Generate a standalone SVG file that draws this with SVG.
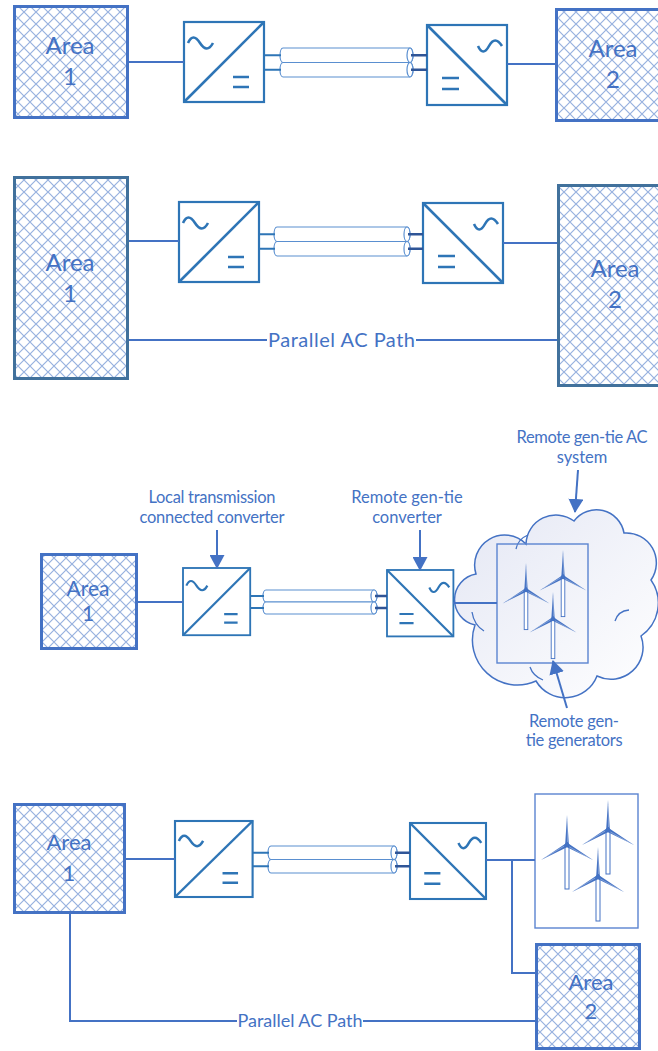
<svg xmlns="http://www.w3.org/2000/svg" width="658" height="1051" viewBox="0 0 658 1051">
  <style>
    .area { fill: url(#crosshatch); stroke: #4472c4; stroke-width: 3; }
    .area.dim { stroke: #41719c; }
    .lbl { font-family: Lato, "Liberation Sans", sans-serif; fill: #4472c4; text-anchor: middle; }
    .wire { fill: none; stroke: #4472c4; stroke-width: 2; }
    .stub { fill: none; stroke: #2e75b6; stroke-width: 2.2; }
    .stub.far { stroke: #2f5597; stroke-width: 2.6; }
    .tube { fill: #fff; stroke: #5a8fd0; stroke-width: 1.2; }
    .conv-box { fill: #fff; stroke: #2e75b6; stroke-width: 2.2; }
    .conv-mark { fill: none; stroke: #2e75b6; stroke-width: 2.6; }
    .farm { fill: none; stroke: #5b84d0; stroke-width: 1.4; }
    .callout { fill: none; stroke: #4472c4; stroke-width: 2; marker-end: url(#arrow); }
  </style>
  <defs>
    <pattern id="crosshatch" width="12" height="12" patternUnits="userSpaceOnUse">
      <rect width="12" height="12" fill="#fff"/>
      <path d="M0,0L12,12M12,0L0,12" stroke="#97b1df" stroke-width="1.2"/>
    </pattern>
    <linearGradient id="cloudFill" x1="0" y1="0" x2="1" y2="1">
      <stop offset="0" stop-color="#e4e7f4"/>
      <stop offset="1" stop-color="#ffffff"/>
    </linearGradient>
    <marker id="arrow" viewBox="0 0 14 15" refX="13" refY="7.5" markerWidth="14" markerHeight="15" markerUnits="userSpaceOnUse" orient="auto">
      <path d="M0,0L14,7.5L0,15Z" fill="#4472c4"/>
    </marker>
    <!-- AC/DC converter, AC side on the left -->
    <g id="conv-ac-dc">
      <rect class="conv-box" x="0" y="0" width="80" height="80"/>
      <path class="conv-mark" d="M0,80L80,0"/>
      <path class="conv-mark" d="M4,21Q9,10 16,21T29,21"/>
      <path class="conv-mark" d="M49,55H65M49,65H65"/>
    </g>
    <!-- DC/AC converter, AC side on the right -->
    <g id="conv-dc-ac">
      <rect class="conv-box" x="0" y="0" width="80" height="80"/>
      <path class="conv-mark" d="M0,0L80,80"/>
      <path class="conv-mark" d="M51,21Q56,32 62,21T75,21"/>
      <path class="conv-mark" d="M15,53H32M15,64H32"/>
    </g>
    <!-- wind turbine, origin at the hub -->
    <g id="blade">
      <path d="M-1.9,0L0,-30L1.9,0Z" fill="#4472c4"/>
      <path d="M0.5,-3L0.2,-25" stroke="#fff" stroke-width="0.5" opacity="0.6"/>
    </g>
    <g id="turbine">
      <rect x="-2" y="0" width="4" height="44" fill="#fff" stroke="#4472c4" stroke-width="1"/>
      <use href="#blade"/>
      <use href="#blade" transform="rotate(120)"/>
      <use href="#blade" transform="rotate(240)"/>
      <circle r="2.2" fill="#4472c4"/>
    </g>
  </defs>

  <rect width="658" height="1051" fill="#fff"/>

  <!-- ===== Row 1: back-to-back HVDC link ===== -->
  <g id="r1-area1">
    <rect class="area" x="14.5" y="6.5" width="113" height="111"/>
    <text class="lbl" x="70" y="54" font-size="24">Area</text>
    <text class="lbl" x="70" y="85" font-size="24">1</text>
  </g>
  <g id="r1-area2">
    <rect class="area" x="556.5" y="9.5" width="110" height="111"/>
    <text class="lbl" x="613" y="57" font-size="24">Area</text>
    <text class="lbl" x="613" y="88" font-size="24">2</text>
  </g>
  <g id="r1-conv-local"><use href="#conv-ac-dc" transform="translate(184,22)"/></g>
  <g id="r1-conv-remote"><use href="#conv-dc-ac" transform="translate(427,25)"/></g>
  <g id="r1-cable">
    <path class="tube" d="M283,48H410A3,7.25 0 0 1 410,62.5H283A3,7.25 0 0 1 283,48Z"/>
    <ellipse class="tube" cx="410" cy="55.25" rx="3" ry="7.25"/>
    <path class="tube" d="M283,62.5H410A3,7.25 0 0 1 410,77H283A3,7.25 0 0 1 283,62.5Z"/>
    <ellipse class="tube" cx="410" cy="69.75" rx="3" ry="7.25"/>
  </g>

  <!-- ===== Row 2: HVDC link with parallel AC path ===== -->
  <g id="r2-area1">
    <rect class="area dim" x="14.5" y="177.5" width="113" height="201"/>
    <text class="lbl" x="70" y="271" font-size="24">Area</text>
    <text class="lbl" x="70" y="302" font-size="24">1</text>
  </g>
  <g id="r2-area2">
    <rect class="area dim" x="558.5" y="185.5" width="110" height="200"/>
    <text class="lbl" x="615" y="277" font-size="24">Area</text>
    <text class="lbl" x="615" y="308" font-size="24">2</text>
  </g>
  <g id="r2-conv-local"><use href="#conv-ac-dc" transform="translate(179,202)"/></g>
  <g id="r2-conv-remote"><use href="#conv-dc-ac" transform="translate(423,203)"/></g>
  <g id="r2-cable">
    <path class="tube" d="M277,227H407A3,7.25 0 0 1 407,241.5H277A3,7.25 0 0 1 277,227Z"/>
    <ellipse class="tube" cx="407" cy="234.25" rx="3" ry="7.25"/>
    <path class="tube" d="M277,241.5H407A3,7.25 0 0 1 407,256H277A3,7.25 0 0 1 277,241.5Z"/>
    <ellipse class="tube" cx="407" cy="248.75" rx="3" ry="7.25"/>
  </g>

  <!-- ===== Row 3: remote gen-tie system ===== -->
  <g id="r3-area1">
    <rect class="area" x="41.5" y="554.5" width="95" height="94"/>
    <text class="lbl" x="88" y="596" font-size="21">Area</text>
    <text class="lbl" x="88" y="621" font-size="21">1</text>
  </g>
  <g id="r3-conv-local"><use href="#conv-ac-dc" transform="translate(183,568) scale(0.84)"/></g>
  <g id="r3-conv-remote"><use href="#conv-dc-ac" transform="translate(387,570) scale(0.83)"/></g>
  <g id="r3-cable">
    <path class="tube" d="M266,590H374A3,6 0 0 1 374,602H266A3,6 0 0 1 266,590Z"/>
    <ellipse class="tube" cx="374" cy="596" rx="3" ry="6"/>
    <path class="tube" d="M266,602H374A3,6 0 0 1 374,614H266A3,6 0 0 1 266,602Z"/>
    <ellipse class="tube" cx="374" cy="608" rx="3" ry="6"/>
  </g>
  <g id="r3-ac-system">
    <path d="M475,625A26,26 0 0 1 476,574A30,30 0 0 1 526,544A30,30 0 0 1 574,521A28,28 0 0 1 624,533A30,30 0 0 1 651,580A40,40 0 0 1 641,636A32,32 0 0 1 597,676A34,34 0 0 1 536,681A45,45 0 0 1 475,625Z" fill="url(#cloudFill)" stroke="#4472c4" stroke-width="1.5"/>
    <path d="M472,612Q474,625 484,631M516,549Q518,539 528,535M615,621Q618,611 629,610M530,667Q533,676 543,680" fill="none" stroke="#4472c4" stroke-width="1.3"/>
  </g>
  <g id="r3-generators">
    <rect class="farm" x="497" y="544" width="91" height="119"/>
    <use href="#turbine" transform="translate(526,590) scale(0.9)"/>
    <use href="#turbine" transform="translate(563,577) scale(0.9)"/>
    <use href="#turbine" transform="translate(553,619) scale(0.9)"/>
  </g>
  <g id="r3-labels">
    <text class="lbl" x="212" y="503" font-size="16.5" textLength="127">Local transmission</text>
    <text class="lbl" x="212" y="523" font-size="16.5" textLength="145">connected converter</text>
    <text class="lbl" x="407" y="503" font-size="16.5">Remote gen-tie</text>
    <text class="lbl" x="407" y="523" font-size="16.5">converter</text>
    <text class="lbl" x="582" y="443" font-size="16.5" textLength="131">Remote gen-tie AC</text>
    <text class="lbl" x="582" y="463" font-size="16.5">system</text>
    <text class="lbl" x="574" y="727" font-size="16.5" textLength="90">Remote gen-</text>
    <text class="lbl" x="574" y="746" font-size="16.5" textLength="97">tie generators</text>
  </g>

  <!-- ===== Row 4: gen-tie with parallel AC path ===== -->
  <g id="r4-area1">
    <rect class="area" x="14.5" y="804.5" width="110" height="108"/>
    <text class="lbl" x="69" y="850" font-size="22">Area</text>
    <text class="lbl" x="69" y="881" font-size="22">1</text>
  </g>
  <g id="r4-area2">
    <rect class="area" x="536.5" y="944.5" width="103" height="104"/>
    <text class="lbl" x="591" y="990" font-size="22">Area</text>
    <text class="lbl" x="591" y="1019" font-size="22">2</text>
  </g>
  <g id="r4-conv-local"><use href="#conv-ac-dc" transform="translate(175,821) scale(0.97,0.95)"/></g>
  <g id="r4-conv-remote"><use href="#conv-dc-ac" transform="translate(410,823) scale(0.95)"/></g>
  <g id="r4-cable">
    <path class="tube" d="M271,846H394A3,6.75 0 0 1 394,859.5H271A3,6.75 0 0 1 271,846Z"/>
    <ellipse class="tube" cx="394" cy="852.75" rx="3" ry="6.75"/>
    <path class="tube" d="M271,859.5H394A3,6.75 0 0 1 394,873H271A3,6.75 0 0 1 271,859.5Z"/>
    <ellipse class="tube" cx="394" cy="866.25" rx="3" ry="6.75"/>
  </g>
  <g id="r4-generators">
    <rect class="farm" x="535" y="794" width="103" height="134" fill="#fff"/>
    <use href="#turbine" transform="translate(567,845)"/>
    <use href="#turbine" transform="translate(608,830)"/>
    <use href="#turbine" transform="translate(598,877)"/>
  </g>

  <!-- ===== Connectors ===== -->
  <g id="connectors">
    <!-- row 1 -->
    <path class="wire" d="M129,62H184"/>
    <path class="wire" d="M507,64H555"/>
    <path class="stub" d="M265,55.25H281M265,69.75H281"/>
    <path class="stub far" d="M411,55.25H427M411,69.75H427"/>
    <!-- row 2 -->
    <path class="wire" d="M129,241H179"/>
    <path class="wire" d="M503,243H557"/>
    <path class="stub" d="M260,234.25H275M260,248.75H275"/>
    <path class="stub far" d="M408,234.25H423M408,248.75H423"/>
    <path class="wire" d="M129,340H267M416,340H557"/>
    <text class="lbl" x="341.5" y="347" font-size="20" textLength="147">Parallel AC Path</text>
    <!-- row 3 -->
    <path class="wire" d="M138,602H183"/>
    <path class="wire" d="M453,603H497"/>
    <path class="stub" d="M250,596H264M250,608H264"/>
    <path class="stub far" d="M375,596H387M375,608H387"/>
    <path class="callout" d="M217,530V568"/>
    <path class="callout" d="M420,530V570"/>
    <path class="callout" d="M578,470L575,512"/>
    <path class="callout" d="M567,708L553,661"/>
    <!-- row 4 -->
    <path class="wire" d="M125,859H175"/>
    <path class="wire" d="M486,860H535"/>
    <path class="wire" d="M512,860V973H535"/>
    <path class="stub" d="M253,852.75H269M253,866.25H269"/>
    <path class="stub far" d="M395,852.75H410M395,866.25H410"/>
    <path class="wire" d="M70,914V1021H237M363,1021H535"/>
    <text class="lbl" x="300" y="1027" font-size="18" textLength="125">Parallel AC Path</text>
  </g>
</svg>
